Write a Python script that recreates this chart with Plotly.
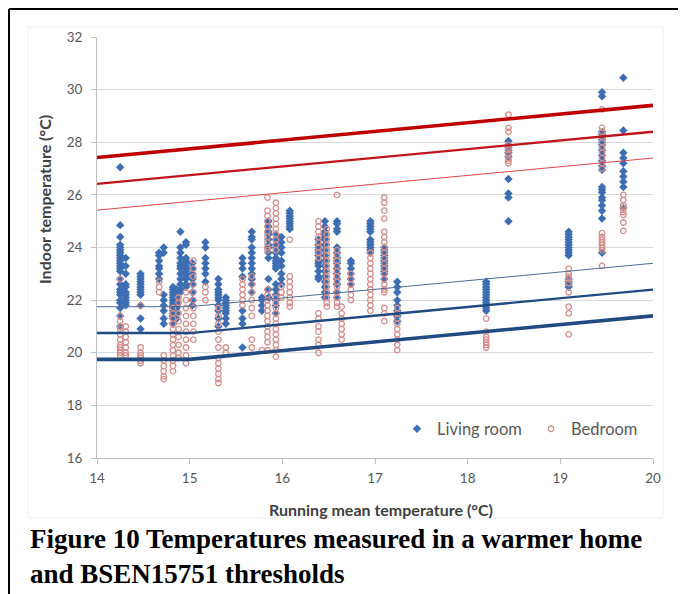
import plotly.graph_objects as go

# ---------------- data ----------------
# Living room: column x positions (running mean temp) and indoor temps
living_cols_x = [14.25, 14.31, 14.47, 14.67, 14.72, 14.82, 14.86, 14.90, 14.96, 15.03,
                 15.17, 15.31, 15.39, 15.57, 15.67, 15.78, 15.85, 15.93, 15.99, 16.08,
                 16.39, 16.46, 16.59, 16.74, 16.95, 17.10, 17.24, 18.20, 18.44, 19.09,
                 19.45, 19.68]
living_cols_y = [
    [27.05, 24.85, 24.4, 24.1, 24.0, 23.9, 23.8, 23.7, 23.6, 23.5, 23.4, 23.3, 23.2, 23.1, 22.8, 22.6, 22.4, 22.3, 22.2, 22.0, 21.9, 21.7, 21.4, 21.0],
    [23.6, 23.3, 23.0, 22.6, 22.5, 22.3, 22.2, 22.1, 22.0, 21.9, 21.8],
    [23.0, 22.9, 22.8, 22.7, 22.6, 22.5, 22.4, 22.3, 22.2, 21.8, 21.3, 20.9],
    [23.8, 23.7, 23.5, 23.3, 23.2, 23.0, 22.8],
    [24.0, 23.8, 22.2, 22.0, 21.8, 21.6, 21.3, 21.1],
    [22.5, 22.4, 22.3, 22.2, 22.1, 22.0, 21.9, 21.8, 21.7, 21.6, 21.5, 21.4, 21.3, 21.1],
    [22.4, 22.3, 22.2, 22.1, 22.0, 21.9, 21.8, 21.7, 21.5, 21.3],
    [24.6, 24.0, 23.8, 23.6, 23.4, 23.3, 23.2, 23.0, 22.8, 22.6, 22.4, 22.3],
    [24.2, 24.1, 23.6, 23.5, 23.4, 23.3, 23.2, 23.1, 23.0, 22.9, 22.8, 22.6, 22.5],
    [23.4, 23.2, 23.0, 22.8, 22.6, 22.3, 22.0, 21.8],
    [24.2, 24.0, 23.6, 23.4, 23.2, 23.0, 22.7],
    [22.8, 22.6, 22.4, 22.3, 22.2, 22.1, 22.0, 21.8, 21.6, 21.3, 21.0],
    [22.1, 22.0, 21.9, 21.8, 21.7, 21.6, 21.5, 21.3, 21.1],
    [23.6, 23.4, 23.2, 22.9, 21.6, 21.3, 21.1, 20.2],
    [24.6, 24.4, 24.3, 24.0, 23.8, 23.6, 23.4, 23.2, 23.0, 22.8, 22.6, 22.3],
    [22.1, 22.0, 21.8, 21.6],
    [25.0, 24.8, 24.6, 24.5, 24.3, 24.1, 24.0, 23.8, 23.6, 22.8, 22.4, 22.1],
    [24.5, 24.3, 24.1, 24.0, 23.8, 23.6, 23.5, 23.4, 23.3, 23.2, 22.6, 22.4, 22.2, 22.0, 21.8, 21.5],
    [24.4, 24.2, 24.0, 23.8, 23.5, 23.3, 23.0, 22.8, 22.6],
    [25.4, 25.3, 25.2, 25.1, 25.0, 24.9, 24.8, 24.7],
    [24.3, 24.1, 24.0, 23.9, 23.8, 23.7, 23.5, 23.4, 23.3, 23.1, 22.9, 22.8],
    [25.0, 24.8, 24.6, 24.5, 24.4, 24.3, 24.1, 23.9, 23.7, 23.5, 23.3, 23.1, 22.9, 22.7, 22.5, 22.3, 22.1],
    [25.0, 24.9, 24.7, 24.6, 24.0, 23.8, 23.6, 23.5, 23.4, 23.2, 23.0, 22.8, 22.6, 22.3, 22.1],
    [23.5, 23.4, 23.2, 23.0, 22.8, 22.6],
    [25.0, 24.9, 24.8, 24.7, 24.6, 24.3, 24.2, 24.1, 24.0, 23.9, 23.8],
    [24.0, 23.9, 23.8, 23.7, 23.6, 23.5, 23.4, 23.3, 23.2, 23.1, 23.0, 22.8],
    [22.7, 22.5, 22.3, 22.0, 21.8, 21.6, 21.4, 21.2],
    [22.7, 22.6, 22.5, 22.4, 22.3, 22.2, 22.1, 22.0, 21.9, 21.8, 21.7, 21.6],
    [28.05, 27.9, 27.8, 27.7, 27.6, 27.45, 26.6, 26.05, 25.9, 25.0],
    [24.6, 24.5, 24.4, 24.3, 24.2, 24.1, 24.0, 23.9, 23.8, 23.7, 22.8, 22.7, 22.6, 22.5],
    [29.9, 29.75, 28.4, 28.3, 28.2, 28.1, 28.0, 27.9, 27.7, 27.5, 27.3, 27.1, 26.95, 26.3, 26.2, 26.1, 25.9, 25.8, 25.6, 25.4, 25.1, 23.8],
    [30.45, 28.45, 27.6, 27.4, 27.2, 26.9, 26.7, 26.5, 26.3, 25.5],
]

# Bedroom
bedroom_cols_x = [14.25, 14.31, 14.47, 14.67, 14.72, 14.82, 14.88, 14.96, 15.04, 15.17,
                  15.31, 15.39, 15.57, 15.67, 15.78, 15.84, 15.93, 15.99, 16.08, 16.39,
                  16.48, 16.59, 16.64, 16.74, 16.95, 17.10, 17.24, 18.20, 18.44, 19.09,
                  19.45, 19.68]
bedroom_cols_y = [
    [22.8, 21.4, 21.2, 21.0, 20.9, 20.7, 20.5, 20.3, 20.2, 20.1, 20.0, 19.9],
    [21.0, 20.8, 20.6, 20.4, 20.2, 20.0, 19.9],
    [21.8, 20.2, 20.0, 19.9, 19.8, 19.7, 19.6],
    [22.7, 22.5, 22.3],
    [19.9, 19.7, 19.5, 19.3, 19.1, 19.0],
    [21.7, 21.5, 21.3, 21.1, 20.9, 20.7, 20.5, 20.3, 20.1, 19.9, 19.7, 19.5, 19.3],
    [22.1, 21.9, 21.5, 21.2, 20.9, 20.6, 20.3, 20.0, 19.8],
    [22.3, 22.0, 21.7, 21.4, 21.1, 20.8, 20.5, 20.2, 19.9, 19.6],
    [23.5, 23.2, 22.9, 22.6, 22.3, 22.0, 21.7, 21.4, 21.1, 20.8, 20.5],
    [22.5, 22.3, 22.0],
    [21.7, 21.4, 21.1, 20.8, 20.5, 20.2, 19.8, 19.6, 19.4, 19.2, 19.0, 18.85],
    [20.2, 20.0],
    [22.8, 22.6, 22.4, 22.2, 22.0, 21.8],
    [22.9, 22.6, 22.3, 22.0, 21.7, 21.4, 20.5, 20.2],
    [20.1],
    [25.9, 25.4, 25.2, 25.0, 24.8, 24.6, 24.4, 24.2, 24.0, 23.9, 22.4, 22.2, 22.0, 21.8, 21.6, 21.4, 21.2, 21.0, 20.8, 20.6, 20.4, 20.1],
    [25.7, 25.5, 25.3, 25.1, 24.9, 24.7, 24.5, 24.3, 24.1, 23.9, 22.1, 21.9, 21.7, 21.5, 21.3, 21.1, 20.9, 20.7, 20.5, 20.3, 20.1, 19.85],
    [22.5, 22.3, 22.1],
    [24.3, 22.9, 22.7, 22.5, 22.3, 22.1, 21.9, 21.75],
    [25.0, 24.8, 24.6, 24.4, 24.2, 24.0, 23.8, 23.6, 21.5, 21.3, 21.0, 20.8, 20.5, 20.3, 20.0],
    [24.7, 24.5, 24.3, 24.1, 23.9, 23.7, 23.5, 23.3, 23.1, 22.9, 22.7, 22.5, 22.3, 22.1, 21.9, 21.75],
    [26.0, 23.9, 23.7, 23.5, 23.3, 23.1, 22.9, 22.7, 22.5, 22.3, 22.1, 21.9, 21.75],
    [21.75, 21.5, 21.3, 21.1, 20.9, 20.7, 20.5],
    [23.0, 22.8, 22.6, 22.4, 22.2, 22.0],
    [23.8, 23.6, 23.4, 23.2, 23.0, 22.8, 22.6, 22.4, 22.2, 22.0, 21.8, 21.6],
    [25.9, 25.7, 25.4, 25.1, 24.6, 24.4, 24.2, 24.0, 23.8, 23.6, 23.4, 23.2, 23.0, 22.8, 22.6, 22.4, 22.3, 21.7, 21.5, 21.2],
    [21.7, 21.5, 21.3, 21.1, 20.9, 20.7, 20.5, 20.3, 20.1],
    [21.3, 20.8, 20.6, 20.5, 20.4, 20.3, 20.2],
    [29.05, 28.55, 28.4, 27.9, 27.8, 27.7, 27.55, 27.4, 27.3, 27.2],
    [23.2, 23.0, 22.9, 22.8, 22.65, 22.3, 21.75, 21.5, 20.7],
    [29.25, 28.55, 28.4, 28.2, 28.0, 27.8, 27.6, 27.4, 27.2, 27.0, 24.55, 24.4, 24.3, 24.2, 24.1, 24.0, 23.9, 23.3],
    [26.0, 25.8, 25.6, 25.5, 25.35, 25.24, 24.95, 24.63],
]

# BS EN 15251 thresholds
upper_x = [14, 20]
upper_cat3 = [27.42, 29.4]
upper_cat2 = [26.42, 28.4]
upper_cat1 = [25.42, 27.4]
lower_x = [14, 15, 20]
lower_cat1 = [21.75, 21.75, 23.4]
lower_cat2 = [20.75, 20.75, 22.4]
lower_cat3 = [19.75, 19.75, 21.4]

x_ticks = [14, 15, 16, 17, 18, 19, 20]
y_ticks = [16, 18, 20, 22, 24, 26, 28, 30, 32]


def flatten(cols_x, cols_y):
    xs, ys = [], []
    for cx, cy in zip(cols_x, cols_y):
        for v in cy:
            xs.append(cx)
            ys.append(v)
    return xs, ys


lx, ly = flatten(living_cols_x, living_cols_y)
bx, by = flatten(bedroom_cols_x, bedroom_cols_y)

fig = go.Figure()
fig.add_trace(go.Scatter(x=lx, y=ly, mode="markers", name="Living room",
                         marker=dict(symbol="diamond", size=6.5, color="#3D6DB3",
                                     line=dict(width=0))))
fig.add_trace(go.Scatter(x=bx, y=by, mode="markers", name="Bedroom",
                         marker=dict(symbol="circle-open", size=5.5, color="#D68E8B",
                                     line=dict(width=1.3, color="#D68E8B"))))

lines = [
    (upper_x, upper_cat3, "#C00000", 3.6),
    (upper_x, upper_cat2, "#C0141A", 2.3),
    (upper_x, upper_cat1, "#E0464B", 1.0),
    (lower_x, lower_cat1, "#4D6C98", 1.0),
    (lower_x, lower_cat2, "#1F4A82", 2.3),
    (lower_x, lower_cat3, "#1F4A82", 3.6),
]
for xs, ys, col, w in lines:
    fig.add_trace(go.Scatter(x=xs, y=ys, mode="lines", showlegend=False,
                             line=dict(color=col, width=w), hoverinfo="skip"))

# page has an 8px body margin: lay out in page pixels, shifted into figure pixels
OFF = 8
PAGE_W, PAGE_H = 686, 594
W, H = PAGE_W - OFF, PAGE_H - OFF
PL, PR, PT, PB = 97, 653, 37, 458      # plot area in page pixels
L, R, T, B = PL - OFF, PR - OFF, PT - OFF, PB - OFF


def px(xp):
    return (xp - PL) / (PR - PL)


def py(yp):
    return (PB - yp) / (PB - PT)


tickfont = dict(family="Lato, Open Sans, sans-serif", size=13.5, color="#595959")

fig.update_layout(
    width=W, height=H,
    margin=dict(l=L, r=W - R, t=T, b=H - B, pad=0, autoexpand=False),
    paper_bgcolor="white", plot_bgcolor="white",
    showlegend=True,
    legend=dict(orientation="h", x=px(397), y=py(429), xanchor="left", yanchor="middle",
                font=dict(family="Lato, Open Sans, sans-serif", size=16.5, color="#595959"),
                bgcolor="rgba(0,0,0,0)", itemwidth=30, entrywidth=89,
                entrywidthmode="pixels", traceorder="normal"),
    xaxis=dict(range=[14, 20], tickvals=x_ticks, showgrid=False, zeroline=False,
               showline=True, linecolor="#BFBFBF", linewidth=1,
               ticks="outside", ticklen=5, tickcolor="#BFBFBF",
               tickfont=tickfont, ticklabelstandoff=3, fixedrange=True),
    yaxis=dict(range=[16, 32], tickvals=y_ticks, showgrid=True, gridcolor="#D9D9D9",
               gridwidth=1, zeroline=False, showline=True, linecolor="#BFBFBF",
               linewidth=1, ticks="outside", ticklen=5, tickcolor="#BFBFBF",
               tickfont=tickfont, ticklabelstandoff=6, fixedrange=True),
    shapes=[
        # faint chart-area outline
        dict(type="rect", xref="paper", yref="paper", x0=px(28), x1=px(663),
             y0=py(518), y1=py(27), line=dict(color="#F0F0F0", width=1), layer="below"),
        # outer black frame (top & left)
        dict(type="line", xref="paper", yref="paper", x0=px(OFF + 1), x1=px(700),
             y0=py(OFF + 1), y1=py(OFF + 1), line=dict(color="black", width=2)),
        dict(type="line", xref="paper", yref="paper", x0=px(OFF + 1), x1=px(OFF + 1),
             y0=py(OFF + 1), y1=py(610), line=dict(color="black", width=2)),
    ],
    annotations=[
        dict(text="<b>Indoor temperature (°C)</b>", xref="paper", yref="paper",
             x=px(45), y=py(200), textangle=-90, showarrow=False,
             xanchor="center", yanchor="middle",
             font=dict(family="Lato, Open Sans, sans-serif", size=16, color="#404040")),
        dict(text="<b>Running mean temperature (°C)</b>", xref="paper", yref="paper",
             x=px(381), y=py(509), showarrow=False, xanchor="center", yanchor="middle",
             font=dict(family="Lato, Open Sans, sans-serif", size=16, color="#404040")),
        dict(text="<b>Figure 10 Temperatures measured in a warmer home<br>and BSEN15751 thresholds</b>",
             xref="paper", yref="paper", x=px(28), y=py(522), showarrow=False,
             xanchor="left", yanchor="top", align="left",
             font=dict(family="Liberation Serif, Times New Roman, serif", size=27, color="black")),
    ],
)

fig.write_html("out.html")
